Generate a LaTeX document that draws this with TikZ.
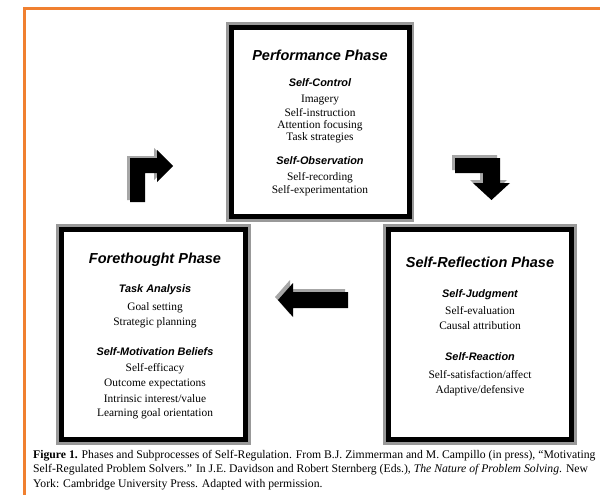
\documentclass[tikz,border=0pt]{standalone}
\usepackage{fontspec}
\setmainfont{Liberation Serif}
\newfontfamily\headfont{Liberation Sans}
\begin{document}
\begin{tikzpicture}[x=1pt,y=-1pt,
  phasebox/.style={draw=black, line width=5pt, fill=white, inner sep=0pt},
  boxshade/.style={draw=black!40, line width=3pt},
  title/.style={font=\headfont\bfseries\itshape\fontsize{14.5}{16}\selectfont, inner sep=0pt},
  sub/.style={font=\headfont\bfseries\itshape\fontsize{10.9}{12}\selectfont, inner sep=0pt},
  item/.style={font=\fontsize{11.4}{12}\selectfont, inner sep=0pt},
  captext/.style={font=\fontsize{11.7}{13}\selectfont, anchor=base west, inner sep=0pt},
  blockarrow/.style={fill=black},
  arrowshade/.style={fill=black!35}]
\useasboundingbox (0,0) rectangle (600,495);
\clip (0,0) rectangle (600,495);
\fill[white] (0,0) rectangle (600,495);
% orange frame
\draw[line width=3pt, color={rgb,255:red,240;green,128;blue,48}] (24,495) -- (24,8.5) -- (600,8.5);

% Performance box
\draw[boxshade] (227,24) rectangle (412,220);
\node[phasebox, minimum width=178pt, minimum height=189pt] (perf) at (320,122) {};
\node[title] (pt) at (320,55) {Performance Phase};
\node[sub] (p1) at (320,83) {Self-Control};
\node[item] at (320,100) {Imagery};
\node[item] at (320,113) {Self-instruction};
\node[item] at (320,125.5) {Attention focusing};
\node[item] at (320,138) {Task strategies};
\node[sub] (p2) at (320,161) {Self-Observation};
\node[item] at (320,178) {Self-recording};
\node[item] at (320,191) {Self-experimentation};

% Forethought box
\draw[boxshade] (57,225) rectangle (249,443);
\node[phasebox, minimum width=184pt, minimum height=210pt] (fore) at (153,334) {};
\node[title] (ft) at (155,260) {Forethought Phase};
\node[sub] at (155,290) {Task Analysis};
\node[item] at (155,308) {Goal setting};
\node[item] at (155,323) {Strategic planning};
\node[sub] at (155,352) {Self-Motivation Beliefs};
\node[item] at (155,369) {Self-efficacy};
\node[item] at (155,384) {Outcome expectations};
\node[item] at (155,399) {Intrinsic interest/value};
\node[item] at (155,414) {Learning goal orientation};

% Self-Reflection box
\draw[boxshade] (384,225) rectangle (575,443);
\node[phasebox, minimum width=183pt, minimum height=210pt] (refl) at (479.5,334) {};
\node[title] (rt) at (480,262) {Self-Reflection Phase};
\node[sub] at (480,295) {Self-Judgment};
\node[item] at (480,311) {Self-evaluation};
\node[item] at (480,326) {Causal attribution};
\node[sub] at (480,357) {Self-Reaction};
\node[item] at (480,375) {Self-satisfaction/affect};
\node[item] at (480,391) {Adaptive/defensive};

% bent arrow up-right
\begin{scope}[shift={(-3,-2)}]
\fill[arrowshade] (130,202) -- (130,158) -- (157,158) -- (157,150) -- (173,166) -- (157,182) -- (157,173) -- (145,173) -- (145,202) -- cycle;
\end{scope}
\fill[blockarrow] (130,202) -- (130,158) -- (157,158) -- (157,150) -- (173,166) -- (157,182) -- (157,173) -- (145,173) -- (145,202) -- cycle;

% bent arrow right-down
\begin{scope}[shift={(-3,-3)}]
\fill[arrowshade] (455,158) -- (500,158) -- (500,183) -- (510,183) -- (491.5,200) -- (473,183) -- (483,183) -- (483,173) -- (455,173) -- cycle;
\end{scope}
\fill[blockarrow] (455,158) -- (500,158) -- (500,183) -- (510,183) -- (491.5,200) -- (473,183) -- (483,183) -- (483,173) -- (455,173) -- cycle;

% arrow left
\begin{scope}[shift={(-3,-3)}]
\fill[arrowshade] (348,292) -- (293,292) -- (293,283) -- (278,300) -- (293,317) -- (293,308) -- (348,308) -- cycle;
\end{scope}
\fill[blockarrow] (348,292) -- (293,292) -- (293,283) -- (278,300) -- (293,317) -- (293,308) -- (348,308) -- cycle;

% caption
\node[captext] (c1) at (33,458) {\textbf{Figure 1.} Phases and Subprocesses of Self-Regulation. From B.J. Zimmerman and M. Campillo (in press), “Motivating};
\node[captext] (c2) at (33,472.5) {Self-Regulated Problem Solvers.” In J.E. Davidson and Robert Sternberg (Eds.), \textit{The Nature of Problem Solving}. New};
\node[captext] (c3) at (33,487) {York: Cambridge University Press. Adapted with permission.};
\end{tikzpicture}
\end{document}
